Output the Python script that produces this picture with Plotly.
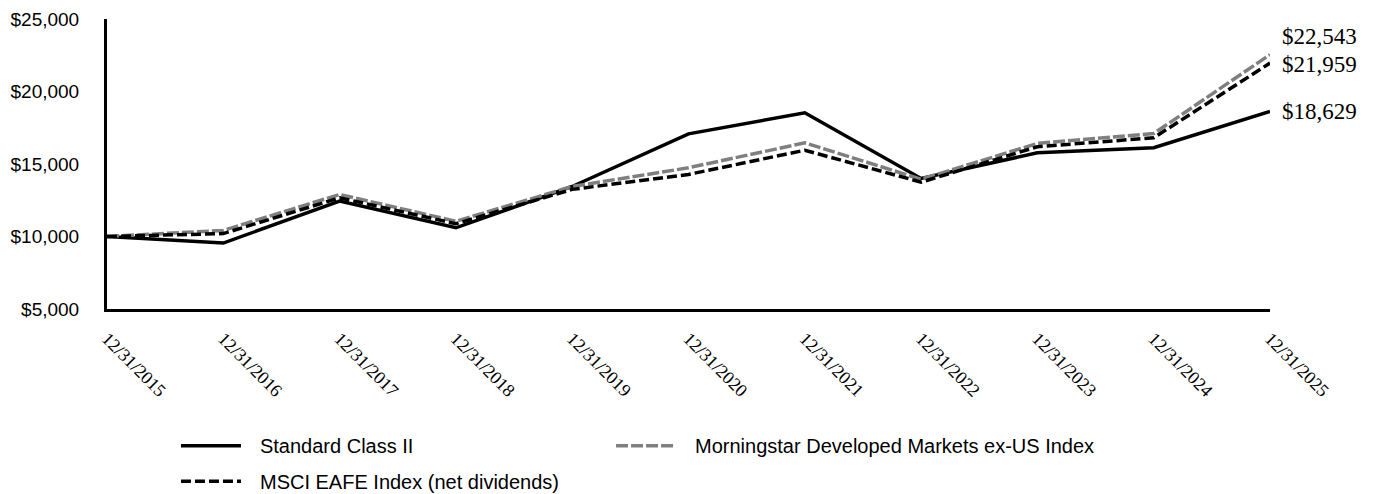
import plotly.graph_objects as go

dates = ["12/31/2015", "12/31/2016", "12/31/2017", "12/31/2018", "12/31/2019",
         "12/31/2020", "12/31/2021", "12/31/2022", "12/31/2023", "12/31/2024", "12/31/2025"]

standard_class_ii = [10000, 9550, 12440, 10600, 13450, 17080, 18530, 14000, 15770, 16120, 18629]
msci_eafe = [10000, 10200, 12670, 10880, 13250, 14280, 15950, 13750, 16190, 16810, 21959]
morningstar_dm = [10000, 10420, 12900, 11050, 13450, 14740, 16460, 13950, 16420, 17100, 22543]

end_labels = ["$18,629", "$21,959", "$22,543"]
y_ticks = [5000, 10000, 15000, 20000, 25000]
y_tick_text = ["$5,000", "$10,000", "$15,000", "$20,000", "$25,000"]

pad = "\u2002\u2009"
fig = go.Figure()
fig.add_trace(go.Scatter(x=dates, y=standard_class_ii, mode="lines", name=pad + "Standard Class II",
                         line=dict(color="#000000", width=3.5), legend="legend"))
fig.add_trace(go.Scatter(x=dates, y=morningstar_dm, mode="lines",
                         name=pad + "Morningstar Developed Markets ex-US Index",
                         line=dict(color="#7f7f7f", width=3.5, dash="12px,3px"), legend="legend3"))
fig.add_trace(go.Scatter(x=dates, y=msci_eafe, mode="lines",
                         name=pad + "MSCI EAFE Index (net dividends)",
                         line=dict(color="#000000", width=3.5, dash="10px,4px"), legend="legend2"))

# end-of-line value labels
label_vals = [standard_class_ii[-1], msci_eafe[-1], morningstar_dm[-1]]
label_shift = [0, -1, 18]
for txt, v, s in zip(end_labels, label_vals, label_shift):
    fig.add_annotation(x=dates[-1], y=v, text=txt, showarrow=False, xanchor="left",
                       xshift=10, yshift=s,
                       font=dict(family="Liberation Serif", size=23, color="#000000"))

legend_font = dict(family="Liberation Sans", size=20, color="#000000")
common = dict(orientation="h", xanchor="left", yanchor="top", font=legend_font,
              itemwidth=60, bgcolor="rgba(0,0,0,0)")
fig.update_layout(
    width=1374, height=494,
    margin=dict(l=107, r=104, t=19, b=185, autoexpand=False),
    paper_bgcolor="white", plot_bgcolor="white",
    font=dict(family="Liberation Sans", color="#000000"),
    showlegend=True,
    legend=dict(x=0.0593, y=-0.404, **common),
    legend3=dict(x=0.4334, y=-0.404, **common),
    legend2=dict(x=0.0593, y=-0.527, **common),
)
fig.update_xaxes(type="category", range=[0, 10], showgrid=False, zeroline=False,
                 showline=True, linecolor="#000000", linewidth=3, ticks="",
                 tickangle=45, ticklabelstandoff=9,
                 tickfont=dict(family="Liberation Serif", size=18, color="#000000"))
fig.update_yaxes(range=[5000, 25000], tickvals=y_ticks, ticktext=y_tick_text,
                 showgrid=False, zeroline=False, showline=True, linecolor="#000000",
                 linewidth=3, ticks="", ticklabelstandoff=21,
                 tickfont=dict(family="Liberation Sans", size=19, color="#000000"))

fig.write_html("out.html", config={"displayModeBar": False},
               post_script="document.body.style.margin='0px';")
